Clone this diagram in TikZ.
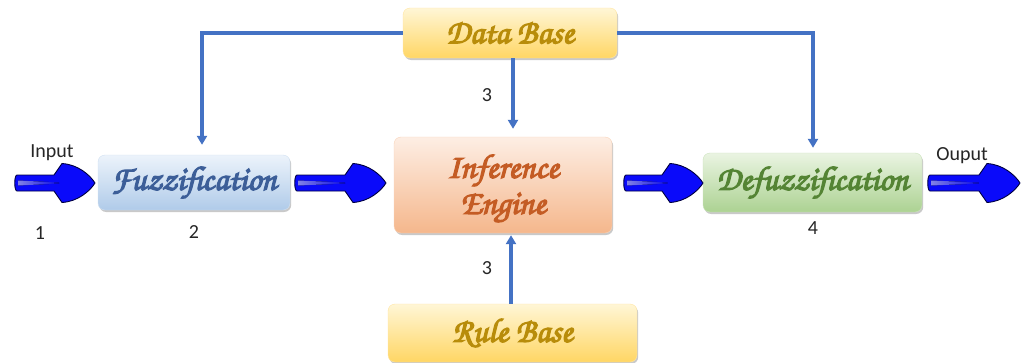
\documentclass[tikz,border=0pt]{standalone}
\usepackage{fontspec}
\setmainfont{Carlito}
\newfontfamily\chorusfont{TeX Gyre Chorus}
\usetikzlibrary{calc,shadows,arrows.meta}

% thicken the stage names by stroking the glyph outlines as well
\newcommand{\heavyglyphs}[1]{\special{pdf:literal direct 2 Tr 1.2 w}#1\special{pdf:literal direct 0 Tr 0.4 w}}

\definecolor{linkblue}{RGB}{68,114,196}
\definecolor{fatblue}{RGB}{10,10,250}
\definecolor{fuzztop}{RGB}{236,243,251}
\definecolor{fuzzbot}{RGB}{176,203,233}
\definecolor{fuzztext}{RGB}{60,94,152}
\definecolor{inftop}{RGB}{253,238,228}
\definecolor{infbot}{RGB}{245,183,140}
\definecolor{inftext}{RGB}{196,92,36}
\definecolor{deftop}{RGB}{234,244,226}
\definecolor{defbot}{RGB}{172,210,146}
\definecolor{deftext}{RGB}{84,132,52}
\definecolor{basetop}{RGB}{255,246,214}
\definecolor{basebot}{RGB}{255,214,100}
\definecolor{basetext}{RGB}{184,140,10}

\tikzset{
  stage/.style={rounded corners=7pt, align=center, inner sep=0pt,
    font=\chorusfont\fontsize{34}{34}\selectfont,
    drop shadow={shadow xshift=1.2pt, shadow yshift=-2pt, opacity=0.35, fill=black!60}},
  fuzzbox/.style={stage, top color=fuzztop, bottom color=fuzzbot, draw=fuzzbot!60, text=fuzztext},
  infbox/.style={stage, top color=inftop, bottom color=infbot, draw=infbot!60, text=inftext},
  defbox/.style={stage, top color=deftop, bottom color=defbot, draw=defbot!60, text=deftext},
  basebox/.style={stage, top color=basetop, bottom color=basebot, draw=basebot!60, text=basetext},
  link/.style={draw=linkblue, line width=3.6pt, -{Triangle[width=10pt,length=9pt]}},
  fatarrow/.style={fill=fatblue, draw=blue!25!black, line width=0.9pt, line join=round},
  tag/.style={font=\fontsize{20}{22}\selectfont, text=black!85},
}

% block arrow from coordinate #1 to coordinate #2 (same height)
\newcommand{\fatArrow}[2]{%
  \draw[fatarrow] let \p1=(#1), \p2=(#2) in
    (\x1+2pt,\y1+8pt) -- (\x2-41pt,\y1+8pt)
    -- (\x2-33pt,\y1+19.5pt)
    .. controls (\x2-17pt,\y1+18.5pt) and (\x2-5pt,\y1+8pt) .. (\x2,\y1)
    .. controls (\x2-5pt,\y1-8pt) and (\x2-17pt,\y1-18.5pt) .. (\x2-33pt,\y1-19.5pt)
    -- (\x2-41pt,\y1-8pt)
    -- (\x1+2pt,\y1-8pt)
    .. controls (\x1-1pt,\y1-8pt) and (\x1-1pt,\y1+8pt) .. cycle;
  \fill[left color=fatblue!45!white, right color=fatblue, opacity=0.9]
    let \p1=(#1), \p2=(#2) in
    (\x1+3pt,\y1+2.5pt) -- (\x1+0.55*\x2-0.55*\x1,\y1+0.5pt)
    -- (\x1+0.55*\x2-0.55*\x1,\y1-0.5pt) -- (\x1+3pt,\y1-2.5pt) -- cycle;
}

\begin{document}
\begin{tikzpicture}[x=1pt,y=-1pt]
  \fill[white] (0,0) rectangle (1024,362);
  \useasboundingbox (0,0) rectangle (1024,362);

  % processing stages
  \node[basebox, minimum width=214pt, minimum height=50pt] (db) at (510,33) {\heavyglyphs{Data Base}};
  \node[fuzzbox, minimum width=192pt, minimum height=55pt] (fuzz) at (194,182.5) {\heavyglyphs{Fuzzification}};
  \node[infbox, minimum width=218pt, minimum height=96pt] (inf) at (503,185) {\rule{0pt}{30pt}\heavyglyphs{Inference}\\[2pt]\heavyglyphs{Engine}};
  \node[defbox, minimum width=219pt, minimum height=59pt] (defz) at (812.5,182.5) {\heavyglyphs{Defuzzification}};
  \node[basebox, minimum width=249pt, minimum height=58pt] (rb) at (512.5,333) {\heavyglyphs{Rule Base}};

  % connectors from the data base and the rule base
  \coordinate (fuzzin) at ($(fuzz.north)+(8,-10)$);
  \coordinate (defin) at ($(defz.north)+(0.5,-5)$);
  \draw[link] (db.west) -| (fuzzin);
  \draw[link] (db.east) -| (defin);
  \draw[link] (db.south -| 513,0) -- ($(inf.north -| 513,0)+(0,-8)$);
  \draw[link] (rb.north -| 511,0) -- ($(inf.south -| 511,0)+(0,2)$);

  % block arrows along the main line
  \coordinate (inA) at (15,183);
  \coordinate (inB) at (95,183);
  \coordinate (fiA) at (295,183);
  \coordinate (fiB) at (386,183);
  \coordinate (idA) at (624,183);
  \coordinate (idB) at (703,183);
  \coordinate (outA) at (928,183);
  \coordinate (outB) at (1020,183);
  \fatArrow{inA}{inB}
  \fatArrow{fiA}{fiB}
  \fatArrow{idA}{idB}
  \fatArrow{outA}{outB}

  % labels
  \node[tag] (lin) at (52,153) {Input};
  \node[tag] (lout) at (962,156) {Ouput};
  \node[tag] (n1) at (40,233) {1};
  \node[tag] (n2) at (194,232) {2};
  \node[tag] (n3a) at (487,95) {3};
  \node[tag] (n3b) at (487,268) {3};
  \node[tag] (n4) at (813,228) {4};
\end{tikzpicture}
\end{document}
